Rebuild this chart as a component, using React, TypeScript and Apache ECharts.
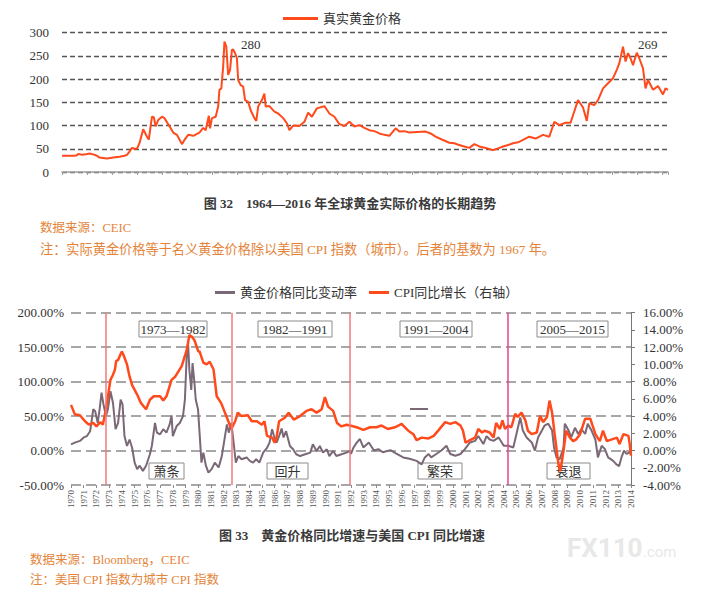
import React, { useEffect, useRef } from "react";
import * as echarts from "echarts";

const FONT = "'Liberation Serif', 'Noto Sans CJK SC', serif";
const TEXT = "#333333";
const ORANGE = "#ff4a1c";
const PURPLE = "#7b6877";
const NOTE = "#e4843a";

// Chart 1: real gold price, [year, value]
const realGoldPrice: [number, number][] = [
  [1967.0, 35], [1967.5, 35], [1968.0, 35], [1968.2, 36], [1968.3, 39], [1968.6, 37], [1968.9, 38],
  [1969.2, 40], [1969.5, 38], [1969.8, 35], [1970.0, 31], [1970.3, 30], [1970.6, 29], [1971.1, 31],
  [1971.6, 33], [1972.0, 35], [1972.2, 37], [1972.4, 44], [1972.6, 52], [1972.8, 50], [1973.0, 50],
  [1973.2, 62], [1973.5, 92], [1973.65, 84], [1973.8, 76], [1973.95, 70], [1974.1, 100], [1974.2, 119],
  [1974.35, 118], [1974.5, 98], [1974.7, 112], [1975.0, 119], [1975.2, 116], [1975.5, 103], [1975.7, 94],
  [1975.9, 85], [1976.2, 80], [1976.4, 70], [1976.6, 60], [1976.8, 69], [1977.1, 80], [1977.5, 78],
  [1978.0, 85], [1978.3, 95], [1978.5, 90], [1978.75, 121], [1978.85, 94], [1979.0, 116], [1979.3, 119],
  [1979.5, 141], [1979.6, 177], [1979.75, 180], [1979.9, 227], [1980.0, 281], [1980.15, 270], [1980.3, 209],
  [1980.45, 220], [1980.6, 263], [1980.7, 264], [1980.85, 256], [1981.0, 245], [1981.1, 198], [1981.3, 187],
  [1981.5, 184], [1981.65, 155], [1981.9, 151], [1982.1, 133], [1982.4, 116], [1982.55, 110], [1982.7, 141],
  [1983.0, 155], [1983.2, 169], [1983.3, 141], [1983.6, 142], [1984.0, 130], [1984.3, 126], [1984.7, 116],
  [1985.0, 105], [1985.2, 90], [1985.5, 100], [1986.0, 99], [1986.4, 108], [1986.7, 128], [1987.0, 119],
  [1987.4, 137], [1987.9, 141], [1988.0, 142], [1988.4, 126], [1988.8, 119], [1989.2, 103], [1989.6, 99],
  [1990.0, 108], [1990.4, 98], [1990.8, 101], [1991.2, 95], [1991.6, 90], [1992.0, 88], [1992.4, 83],
  [1992.8, 80], [1993.2, 78], [1993.7, 94], [1994.0, 87], [1994.4, 88], [1994.8, 85], [1995.4, 86],
  [1996.1, 87], [1996.5, 83], [1996.9, 76], [1997.4, 70], [1998.0, 63], [1998.4, 62], [1998.8, 58],
  [1999.2, 55], [1999.6, 52], [2000.0, 60], [2000.4, 55], [2001.0, 51], [2001.5, 47], [2001.9, 51],
  [2002.3, 55], [2002.7, 58], [2003.1, 62], [2003.5, 64], [2003.9, 69], [2004.4, 76], [2004.9, 72],
  [2005.5, 80], [2006.0, 76], [2006.4, 108], [2006.8, 101], [2007.3, 106], [2007.7, 106], [2008.3, 155],
  [2008.7, 139], [2009.0, 110], [2009.2, 148], [2009.6, 144], [2009.9, 155], [2010.3, 180], [2010.7, 191],
  [2011.1, 202], [2011.4, 220], [2011.6, 234], [2011.9, 270], [2012.1, 238], [2012.3, 256], [2012.5, 245],
  [2012.7, 230], [2013.0, 257], [2013.2, 245], [2013.5, 223], [2013.7, 180], [2013.9, 198], [2014.3, 177],
  [2014.7, 185], [2015.1, 167], [2015.3, 180], [2015.5, 177],
];

// Chart 2: gold price YoY (%) left axis, [year, value]
const goldYoY: [number, number][] = [
  [1970.0, 9], [1970.3, 11.5], [1970.7, 14], [1971.0, 19], [1971.25, 21], [1971.5, 28], [1971.6, 40],
  [1971.75, 60], [1971.9, 57], [1972.1, 40], [1972.25, 60], [1972.4, 84], [1972.55, 67], [1972.75, 50],
  [1972.9, 60], [1973.1, 86], [1973.3, 69], [1973.5, 31], [1973.7, 40], [1973.9, 74], [1974.05, 67],
  [1974.2, 21], [1974.4, 6.6], [1974.6, 16], [1974.8, 4], [1975.0, -17.5], [1975.2, -27], [1975.4, -22],
  [1975.65, -29.5], [1975.9, -22], [1976.2, -5.4], [1976.35, 6.6], [1976.6, 40], [1976.75, 26], [1977.0, 23.5],
  [1977.25, 31], [1977.5, 26], [1977.75, 38], [1977.9, 51], [1978.0, 21], [1978.3, 35.5], [1978.55, 40],
  [1978.8, 50], [1978.95, 74], [1979.1, 141], [1979.2, 155.7], [1979.3, 117], [1979.45, 88], [1979.55, 127],
  [1979.7, 98], [1979.8, 74], [1979.98, 60], [1980.1, 26], [1980.25, -17.5], [1980.4, -3], [1980.6, -22],
  [1980.8, -32], [1981.05, -27], [1981.3, -17.5], [1981.6, -24.6], [1981.85, -8], [1982.1, 21], [1982.25, 38],
  [1982.4, 26], [1982.6, 40], [1982.75, 16], [1982.95, -17.5], [1983.15, -8], [1983.4, -12.6], [1983.8, -10],
  [1984.05, -15], [1984.3, -17.5], [1984.55, -12.6], [1984.8, -17.5], [1985.1, -3], [1985.4, 4], [1985.6, 11.5],
  [1985.8, 31], [1985.95, 21], [1986.15, 11.5], [1986.35, 21], [1986.55, 32], [1986.7, 19], [1986.9, 28],
  [1987.2, 6.6], [1987.45, 1.8], [1987.7, -5.4], [1988.0, -8], [1988.4, -5.4], [1988.8, -3], [1989.0, 9],
  [1989.3, -0.6], [1989.55, 6.6], [1989.8, -3], [1990.1, 1.8], [1990.3, -8], [1990.6, -0.6], [1990.85, -8],
  [1991.25, -5.4], [1991.65, -3], [1991.9, -0.6], [1992.0, -5], [1992.2, 4.5], [1992.45, 11.5], [1992.7, 16.7],
  [1992.97, 4.5], [1993.4, 11.7], [1993.8, 0], [1994.15, 2], [1994.5, -2.5], [1995.1, 0.6], [1995.6, -5],
  [1996.1, -10], [1996.6, -12], [1997.15, -15], [1997.55, -20], [1997.8, -10], [1998.1, -5], [1998.3, -10],
  [1998.7, -5], [1999.1, 0], [1999.5, 7], [1999.8, -5], [2000.2, -7.5], [2000.6, -5], [2000.95, 2],
  [2001.35, 11.7], [2001.75, 14], [2002.0, 21], [2002.4, 9.4], [2002.65, 21], [2002.9, 16], [2003.2, 14],
  [2003.6, 19], [2004.0, 7], [2004.35, 7], [2004.75, 4.5], [2005.0, 24], [2005.3, 48], [2005.5, 29],
  [2005.8, 19], [2006.2, 11.7], [2006.45, 0], [2006.7, 19], [2007.0, 29], [2007.2, 36], [2007.5, 39],
  [2007.8, 29], [2007.95, 4.5], [2008.15, -10], [2008.4, -12.5], [2008.7, 4.5], [2008.8, 39], [2009.1, 29],
  [2009.3, 19], [2009.6, 33], [2009.85, 24], [2010.1, 31], [2010.4, 24], [2010.6, 39], [2010.9, 29],
  [2011.2, 16], [2011.4, -10], [2011.7, 7], [2011.95, 2], [2012.2, -10], [2012.6, -15], [2012.85, -20],
  [2013.07, -22.5], [2013.25, -10], [2013.45, 0], [2013.65, -5], [2013.9, -2.5], [2014.0, -5],
];

// Chart 2: US CPI YoY (%) right axis, [year, value]
const cpiYoY: [number, number][] = [
  [1970.0, 5.3], [1970.3, 4.2], [1970.7, 4.1], [1971.1, 3.4], [1971.4, 3.0], [1971.75, 3.2], [1972.0, 2.8],
  [1972.3, 3.3], [1972.5, 3.0], [1972.75, 4.8], [1973.1, 8.2], [1973.3, 8.8], [1973.45, 9.4], [1973.55, 10.4],
  [1973.7, 10.5], [1973.9, 11.2], [1974.0, 11.5], [1974.15, 11.0], [1974.4, 10.0], [1974.6, 8.6], [1974.8, 7.6],
  [1975.2, 6.5], [1975.5, 5.5], [1975.9, 4.8], [1976.2, 5.9], [1976.5, 6.3], [1977.0, 6.3], [1977.25, 5.8],
  [1977.5, 6.3], [1977.9, 8.2], [1978.2, 8.6], [1978.7, 9.8], [1979.1, 11.7], [1979.3, 13.4], [1979.5, 13.2],
  [1979.7, 12.8], [1980.0, 11.5], [1980.1, 11.5], [1980.4, 10.2], [1980.65, 10.0], [1980.9, 10.3], [1981.2, 9.4],
  [1981.45, 6.3], [1981.8, 5.5], [1982.2, 4.0], [1982.6, 2.5], [1982.9, 3.4], [1983.1, 4.4], [1983.4, 4.0],
  [1983.9, 4.1], [1984.2, 3.4], [1984.6, 3.4], [1985.0, 3.0], [1985.2, 3.4], [1985.4, 1.7], [1985.8, 1.5],
  [1986.0, 0.9], [1986.15, 1.5], [1986.35, 3.4], [1986.8, 3.8], [1987.1, 4.4], [1987.5, 3.6], [1988.0, 4.0],
  [1988.5, 4.6], [1988.9, 4.8], [1989.3, 4.4], [1989.7, 4.8], [1989.95, 6.2], [1990.2, 5.1], [1990.6, 4.6],
  [1990.9, 3.2], [1991.25, 2.8], [1991.65, 3.0], [1991.92, 2.9], [1992.45, 2.7], [1992.97, 2.4], [1993.5, 2.7],
  [1994.0, 2.7], [1994.4, 2.9], [1994.9, 2.5], [1995.45, 2.7], [1995.98, 3.1], [1996.1, 2.9], [1996.5, 2.3],
  [1996.9, 1.9], [1997.15, 1.2], [1997.55, 1.5], [1998.1, 1.4], [1998.5, 1.7], [1998.9, 2.4], [1999.4, 3.3],
  [1999.8, 3.1], [2000.2, 3.3], [2000.6, 2.9], [2000.8, 2.3], [2001.0, 0.9], [2001.35, 1.2], [2001.75, 1.5],
  [2002.0, 2.5], [2002.3, 2.1], [2002.5, 2.3], [2002.9, 2.1], [2003.2, 1.5], [2003.4, 3.2], [2003.7, 2.5],
  [2003.9, 3.5], [2004.1, 2.5], [2004.35, 2.9], [2004.6, 2.7], [2004.9, 4.25], [2005.1, 3.9], [2005.4, 4.4],
  [2005.7, 3.5], [2005.9, 2.3], [2006.2, 1.9], [2006.6, 2.1], [2006.85, 4.05], [2007.1, 3.3], [2007.4, 3.9],
  [2007.6, 5.8], [2007.8, 4.4], [2008.0, 1.9], [2008.3, -1.6], [2008.45, -2.4], [2008.7, 0.0], [2008.9, 2.3],
  [2009.2, 1.5], [2009.45, 1.1], [2009.7, 1.3], [2010.0, 1.9], [2010.4, 3.7], [2010.8, 3.7], [2011.2, 1.9],
  [2011.55, 1.1], [2011.8, 2.3], [2012.1, 1.1], [2012.5, 1.3], [2012.9, 1.5], [2013.1, 0.75], [2013.4, 1.9],
  [2013.8, 1.7], [2013.9, 0.75], [2014.0, -0.6],
];

// Period dividers (year) and their colours
const dividerYears = [1972.75, 1982.65, 1991.9, 2004.3];
const dividerColors = ["#f27a7a", "#f27a7a", "#f27a7a", "#e8438f"];

const periodLabels = ["1973—1982", "1982—1991", "1991—2004", "2005—2015"];
const phaseLabels = ["萧条", "回升", "繁荣", "衰退"];
const peakLabels = ["280", "269"];

const pct = (v: number) => v.toFixed(2) + "%";

function boxText(text: string, x: number, y: number, w: number, h: number) {
  return [
    { type: "rect", shape: { x, y, width: w, height: h }, style: { fill: "#ffffff", stroke: "#8c8c8c", lineWidth: 1 } },
    {
      type: "text", x: x + w / 2, y: y + h / 2 + 0.5,
      style: { text, fill: TEXT, fontSize: 13, fontFamily: FONT, align: "center", verticalAlign: "middle" },
    },
  ];
}

function label(text: string, x: number, y: number, opts: any = {}) {
  return {
    type: "text", x, y,
    style: { text, fill: TEXT, fontSize: 13, fontFamily: FONT, align: "left", verticalAlign: "middle", ...opts },
  };
}

export default function App() {
  const ref = useRef<HTMLDivElement>(null);
  useEffect(() => {
    document.body.style.margin = "0";
    const chart = echarts.init(ref.current!, null, { renderer: "svg" });
    const option: any = {
      animation: false,
      backgroundColor: "#ffffff",
      textStyle: { fontFamily: FONT },
      legend: [
        {
          data: ["真实黄金价格"], left: 278, top: 7, icon: "rect", itemWidth: 35, itemHeight: 3,
          textStyle: { fontSize: 13, color: TEXT, fontFamily: FONT },
        },
        {
          data: ["黄金价格同比变动率", "CPI同比增长（右轴）"], left: 210, top: 281, icon: "rect",
          itemWidth: 20, itemHeight: 3, itemGap: 12,
          textStyle: { fontSize: 13, color: TEXT, fontFamily: FONT },
        },
      ],
      grid: [
        { left: 62, top: 32.7, width: 606, height: 139.3 },
        { left: 71, top: 312.7, width: 560, height: 172.3 },
      ],
      xAxis: [
        {
          gridIndex: 0, type: "value", min: 1967, max: 2015.5, interval: 2,
          axisLine: { onZero: false, lineStyle: { color: "#a0a0a0", width: 1.5 } },
          axisTick: { show: true, length: 3, lineStyle: { color: "#a0a0a0" } },
          axisLabel: { show: false }, splitLine: { show: false },
        },
        {
          gridIndex: 1, type: "value", min: 1970, max: 2014, interval: 1,
          axisLine: { show: false, onZero: false },
          axisTick: { show: true, length: 3, lineStyle: { color: "#8c8c8c" } },
          axisLabel: {
            rotate: 90, fontSize: 9, color: "#555", margin: 5, fontFamily: FONT,
            formatter: (v: number) => String(Math.round(v)),
          },
          splitLine: { show: false },
        },
      ],
      yAxis: [
        {
          gridIndex: 0, type: "value", min: 0, max: 300, interval: 50,
          axisLine: { show: false }, axisTick: { show: false },
          axisLabel: { fontSize: 13, color: TEXT, margin: 13, fontFamily: FONT },
          splitLine: { lineStyle: { type: [5, 3], color: "#555", width: 1.3 } },
        },
        {
          gridIndex: 1, type: "value", min: -50, max: 200, interval: 50, position: "left",
          axisLine: { show: false }, axisTick: { show: false },
          axisLabel: { fontSize: 13, color: TEXT, margin: 7, fontFamily: FONT, formatter: pct },
          splitLine: { lineStyle: { type: [10, 5], color: "#8a8a8a", width: 1.5 } },
        },
        {
          gridIndex: 1, type: "value", min: -4, max: 16, interval: 2, position: "right",
          axisLine: { show: true, lineStyle: { color: "#777", width: 1 } },
          axisTick: { show: true, length: 4, lineStyle: { color: "#777" } },
          axisLabel: { fontSize: 13, color: TEXT, margin: 12, fontFamily: FONT, formatter: pct },
          splitLine: { show: false },
        },
      ],
      series: [
        {
          name: "真实黄金价格", type: "line", xAxisIndex: 0, yAxisIndex: 0, data: realGoldPrice,
          showSymbol: false, color: ORANGE, lineStyle: { color: ORANGE, width: 2 },
        },
        {
          name: "黄金价格同比变动率", type: "line", xAxisIndex: 1, yAxisIndex: 1, data: goldYoY,
          showSymbol: false, color: PURPLE, lineStyle: { color: PURPLE, width: 2 },
          markLine: {
            silent: true, symbol: ["none", "none"], label: { show: false },
            lineStyle: { type: "solid", width: 1.5 },
            data: dividerYears.map((x, i) => ({ xAxis: x, lineStyle: { color: dividerColors[i], type: "solid", width: 1.5 } })),
          },
        },
        {
          name: "CPI同比增长（右轴）", type: "line", xAxisIndex: 1, yAxisIndex: 2, data: cpiYoY,
          showSymbol: false, color: ORANGE, lineStyle: { color: ORANGE, width: 2.5 },
        },
      ],
      graphic: [
        label(peakLabels[0], 241, 44),
        label(peakLabels[1], 638, 44),
        label("图 32　1964—2016 年全球黄金实际价格的长期趋势", 350, 203, { align: "center", fontWeight: "bold", fill: "#3a3a3a" }),
        label("数据来源：CEIC", 40, 228, { fill: NOTE, fontSize: 12.5 }),
        label("注：实际黄金价格等于名义黄金价格除以美国 CPI 指数（城市）。后者的基数为 1967 年。", 40, 249, { fill: NOTE, fontSize: 13.2 }),
        ...boxText(periodLabels[0], 139, 321, 68, 16),
        ...boxText(periodLabels[1], 258, 321, 74, 16),
        ...boxText(periodLabels[2], 400, 321, 72, 16),
        ...boxText(periodLabels[3], 537, 321, 71, 16),
        ...boxText(phaseLabels[0], 149, 463, 35, 16),
        ...boxText(phaseLabels[1], 267, 463, 41, 16),
        ...boxText(phaseLabels[2], 418, 463, 44, 16),
        ...boxText(phaseLabels[3], 547, 463, 43, 16),
        { type: "line", shape: { x1: 410, y1: 409, x2: 428, y2: 409 }, style: { stroke: PURPLE, lineWidth: 2 } },
        label("图 33　黄金价格同比增速与美国 CPI 同比增速", 352, 535, { align: "center", fontWeight: "bold", fill: "#3a3a3a" }),
        label("数据来源：Bloomberg，CEIC", 30, 560, { fill: NOTE, fontSize: 12.5 }),
        label("注：美国 CPI 指数为城市 CPI 指数", 30, 580, { fill: NOTE, fontSize: 12.5 }),
        label("FX110", 567, 548, { fill: "#e8e8e8", fontSize: 26, fontWeight: "bold", fontFamily: "Roboto, sans-serif" }),
        label(".com", 643, 552, { fill: "#e8e8e8", fontSize: 15, fontFamily: "Roboto, sans-serif" }),
      ],
    };
    chart.setOption(option);
    return () => chart.dispose();
  }, []);
  return <div ref={ref} style={{ width: 711, height: 596, background: "#fff" }} />;
}
